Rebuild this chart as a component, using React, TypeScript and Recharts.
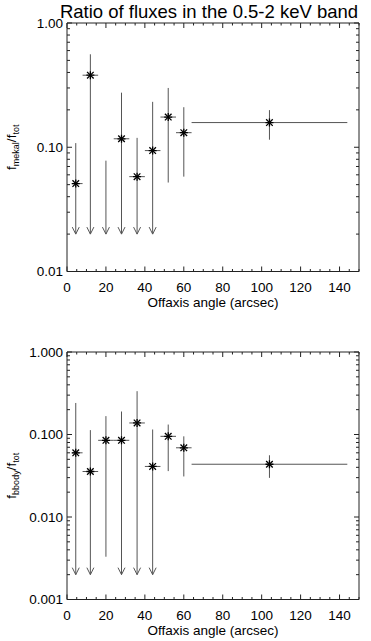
import React from 'react';
import { ScatterChart, Scatter, XAxis, YAxis, ErrorBar, Label } from 'recharts';

// ---- data ----
const offaxis = [4.5, 12, 20, 28, 36, 44, 52, 60, 104];
const binLow = [2.5, 8, 16, 24, 32, 40, 48, 56, 64];
const binHigh = [8, 16, 24, 32, 40, 48, 56, 64, 144];

const mekalRatio = [0.051, 0.38, null, 0.117, 0.058, 0.094, 0.175, 0.131, 0.158];
const mekalHigh = [0.108, 0.56, 0.078, 0.275, 0.119, 0.232, 0.3, 0.21, 0.199];
const mekalLow = [0.02, 0.02, 0.02, 0.02, 0.02, 0.02, 0.052, 0.058, 0.115];
const mekalIsLimit = [true, true, true, true, true, true, false, false, false];
const mekalHasBin = [true, true, false, true, true, true, true, true, true];

const bbodyRatio = [0.06, 0.0356, 0.085, 0.085, 0.138, 0.041, 0.095, 0.069, 0.0436];
const bbodyHigh = [0.241, 0.113, 0.167, 0.19, 0.335, 0.115, 0.132, 0.095, 0.056];
const bbodyLow = [0.002, 0.002, 0.0033, 0.002, 0.002, 0.002, 0.036, 0.031, 0.0298];
const bbodyIsLimit = [true, true, false, true, true, true, false, false, false];
const bbodyHasBin = [true, true, true, true, true, true, true, true, true];

const xTicks = [0, 5, 10, 15, 20, 25, 30, 35, 40, 45, 50, 55, 60, 65, 70, 75, 80, 85, 90, 95, 100, 105, 110, 115, 120, 125, 130, 135, 140, 145, 150];
const xTickLabels = [0, 20, 40, 60, 80, 100, 120, 140];
const mekalYTicks = [0.01, 0.02, 0.03, 0.04, 0.05, 0.06, 0.07, 0.08, 0.09, 0.1, 0.2, 0.3, 0.4, 0.5, 0.6, 0.7, 0.8, 0.9, 1];
const bbodyYTicks = [0.001, 0.002, 0.003, 0.004, 0.005, 0.006, 0.007, 0.008, 0.009, 0.01, 0.02, 0.03, 0.04, 0.05, 0.06, 0.07, 0.08, 0.09, 0.1, 0.2, 0.3, 0.4, 0.5, 0.6, 0.7, 0.8, 0.9, 1];

const TITLE = 'Ratio of fluxes in the 0.5-2 keV band';
const XTITLE = 'Offaxis angle (arcsec)';

// ---- styling ----
const FONT = '"Liberation Sans", Arial, Helvetica, sans-serif';
const AXIS = '#222';
const BAR = '#555';

function buildRows(ratio: (number | null)[], high: number[], low: number[], isLimit: boolean[], hasBin: boolean[]) {
  return offaxis.map((x, i) => {
    const y = ratio[i] ?? high[i];
    return {
      x,
      y,
      marked: ratio[i] != null,
      limit: isLimit[i],
      low: low[i],
      ey: [y - low[i], high[i] - y],
      ex: hasBin[i] ? [x - binLow[i], binHigh[i] - x] : [0, 0],
    };
  });
}

const isMajorLog = (v: number) => Math.abs(Math.log10(v) - Math.round(Math.log10(v))) < 1e-6;

const Star = (p: any) => {
  const { cx, cy, payload } = p;
  if (!payload || !payload.marked) return <g />;
  const a = 4;
  const b = 3.3;
  return (
    <g stroke="#000" strokeWidth={1.3}>
      <line x1={cx - a} y1={cy} x2={cx + a} y2={cy} />
      <line x1={cx} y1={cy - a} x2={cx} y2={cy + a} />
      <line x1={cx - b} y1={cy - b} x2={cx + b} y2={cy + b} />
      <line x1={cx - b} y1={cy + b} x2={cx + b} y2={cy - b} />
    </g>
  );
};

const Arrow = (p: any) => {
  const { cx, cy } = p;
  return <path d={`M${cx - 3.5},${cy - 7}L${cx},${cy}L${cx + 3.5},${cy - 7}`} stroke={BAR} strokeWidth={1} fill="none" />;
};

const Empty = () => <g />;

const BottomTick = (p: any) => {
  const { x, y, payload } = p;
  const v = payload.value;
  const major = v % 20 === 0;
  return (
    <g>
      <line x1={x} y1={y} x2={x} y2={y - (major ? 5 : 2.5)} stroke={AXIS} strokeWidth={1} />
      {xTickLabels.includes(v) && (
        <text x={x} y={y + 20.5} textAnchor="middle" fontSize={13.5} fontFamily={FONT} fill="#000">
          {v}
        </text>
      )}
    </g>
  );
};

const TopTick = (p: any) => {
  const { x, y, payload } = p;
  const major = payload.value % 20 === 0;
  return <line x1={x} y1={y} x2={x} y2={y + (major ? 5 : 2.5)} stroke={AXIS} strokeWidth={1} />;
};

const makeLeftTick = (digits: number) => (p: any) => {
  const { x, y, payload } = p;
  const v = payload.value;
  const major = isMajorLog(v);
  return (
    <g>
      <line x1={x} y1={y} x2={x + (major ? 5 : 3)} y2={y} stroke={AXIS} strokeWidth={1} />
      {major && (
        <text x={x - 4} y={y + 4.8} textAnchor="end" fontSize={13.5} fontFamily={FONT} fill="#000">
          {v.toFixed(digits)}
        </text>
      )}
    </g>
  );
};

const RightTick = (p: any) => {
  const { x, y, payload } = p;
  const major = isMajorLog(payload.value);
  return <line x1={x} y1={y} x2={x - (major ? 5 : 3)} y2={y} stroke={AXIS} strokeWidth={1} />;
};

const XLabel = (p: any) => {
  const vb = p.viewBox || {};
  return (
    <text x={vb.x + vb.width / 2} y={vb.y + 35} textAnchor="middle" fontSize={13.5} fontFamily={FONT} fill="#000">
      {XTITLE}
    </text>
  );
};

const makeYLabel = (sub: string) => (p: any) => {
  const vb = p.viewBox || {};
  const cx = vb.x + 16;
  const cy = vb.y + vb.height / 2;
  return (
    <text
      x={cx}
      y={cy}
      transform={`rotate(-90 ${cx} ${cy})`}
      textAnchor="middle"
      fontSize={13.5}
      fontFamily={FONT}
      fill="#000"
    >
      f
      <tspan dy={3} fontSize={9}>{sub}</tspan>
      <tspan dy={-3} fontSize={13.5}>/f</tspan>
      <tspan dy={3} fontSize={9}>tot</tspan>
    </text>
  );
};

type PanelProps = {
  rows: any[];
  yTicks: number[];
  digits: number;
  sub: string;
  height: number;
  margin: { top: number; right: number; bottom: number; left: number };
};

function Panel({ rows, yTicks, digits, sub, height, margin }: PanelProps) {
  const arrows = rows.filter((r) => r.limit).map((r) => ({ x: r.x, y: r.low }));
  const yDomain = [yTicks[0], yTicks[yTicks.length - 1]];
  return (
    <ScatterChart width={371} height={height} margin={margin}>
      <XAxis
        xAxisId="b"
        dataKey="x"
        type="number"
        domain={[0, 150]}
        ticks={xTicks}
        interval={0}
        tickSize={0}
        tickMargin={0}
        tickLine={false}
        axisLine={{ stroke: AXIS }}
        tick={BottomTick}
        height={30}
        allowDataOverflow
      >
        <Label content={XLabel} />
      </XAxis>
      <XAxis
        xAxisId="t"
        orientation="top"
        dataKey="x"
        type="number"
        domain={[0, 150]}
        ticks={xTicks}
        interval={0}
        tickSize={0}
        tickMargin={0}
        tickLine={false}
        axisLine={{ stroke: AXIS }}
        tick={TopTick}
        height={1}
        allowDataOverflow
      />
      <YAxis
        yAxisId="l"
        dataKey="y"
        type="number"
        scale="log"
        domain={yDomain}
        ticks={yTicks}
        interval={0}
        tickSize={0}
        tickMargin={0}
        tickLine={false}
        axisLine={{ stroke: AXIS }}
        tick={makeLeftTick(digits)}
        width={67}
        allowDataOverflow
      >
        <Label content={makeYLabel(sub)} />
      </YAxis>
      <YAxis
        yAxisId="r"
        orientation="right"
        dataKey="y"
        type="number"
        scale="log"
        domain={yDomain}
        ticks={yTicks}
        interval={0}
        tickSize={0}
        tickMargin={0}
        tickLine={false}
        axisLine={{ stroke: AXIS }}
        tick={RightTick}
        width={1}
        allowDataOverflow
      />
      <Scatter xAxisId="t" yAxisId="r" data={rows} shape={Empty} isAnimationActive={false} />
      <Scatter xAxisId="b" yAxisId="l" data={rows} shape={Star} isAnimationActive={false}>
        <ErrorBar dataKey="ey" direction="y" width={0} stroke={BAR} strokeWidth={1} />
        <ErrorBar dataKey="ex" direction="x" width={0} stroke={BAR} strokeWidth={1} />
      </Scatter>
      <Scatter xAxisId="b" yAxisId="l" data={arrows} shape={Arrow} isAnimationActive={false} />
    </ScatterChart>
  );
}

export default function App() {
  const mekalRows = buildRows(mekalRatio, mekalHigh, mekalLow, mekalIsLimit, mekalHasBin);
  const bbodyRows = buildRows(bbodyRatio, bbodyHigh, bbodyLow, bbodyIsLimit, bbodyHasBin);
  return (
    <div style={{ position: 'absolute', left: 0, top: 0, width: 371, height: 641, background: '#fff', overflow: 'hidden' }}>
      <svg width={371} height={24} style={{ position: 'absolute', left: 0, top: 0 }}>
        <text x={209} y={17.5} textAnchor="middle" fontSize={18.5} fontFamily={FONT} fill="#000">
          {TITLE}
        </text>
      </svg>
      <div style={{ position: 'absolute', left: 0, top: 0 }}>
        <Panel
          rows={mekalRows}
          yTicks={mekalYTicks}
          digits={2}
          sub="mekal"
          height={320}
          margin={{ top: 22, right: 11, bottom: 18.5, left: 0 }}
        />
      </div>
      <div style={{ position: 'absolute', left: 0, top: 330 }}>
        <Panel
          rows={bbodyRows}
          yTicks={bbodyYTicks}
          digits={3}
          sub="bbody"
          height={311}
          margin={{ top: 21, right: 11, bottom: 11.5, left: 0 }}
        />
      </div>
    </div>
  );
}
